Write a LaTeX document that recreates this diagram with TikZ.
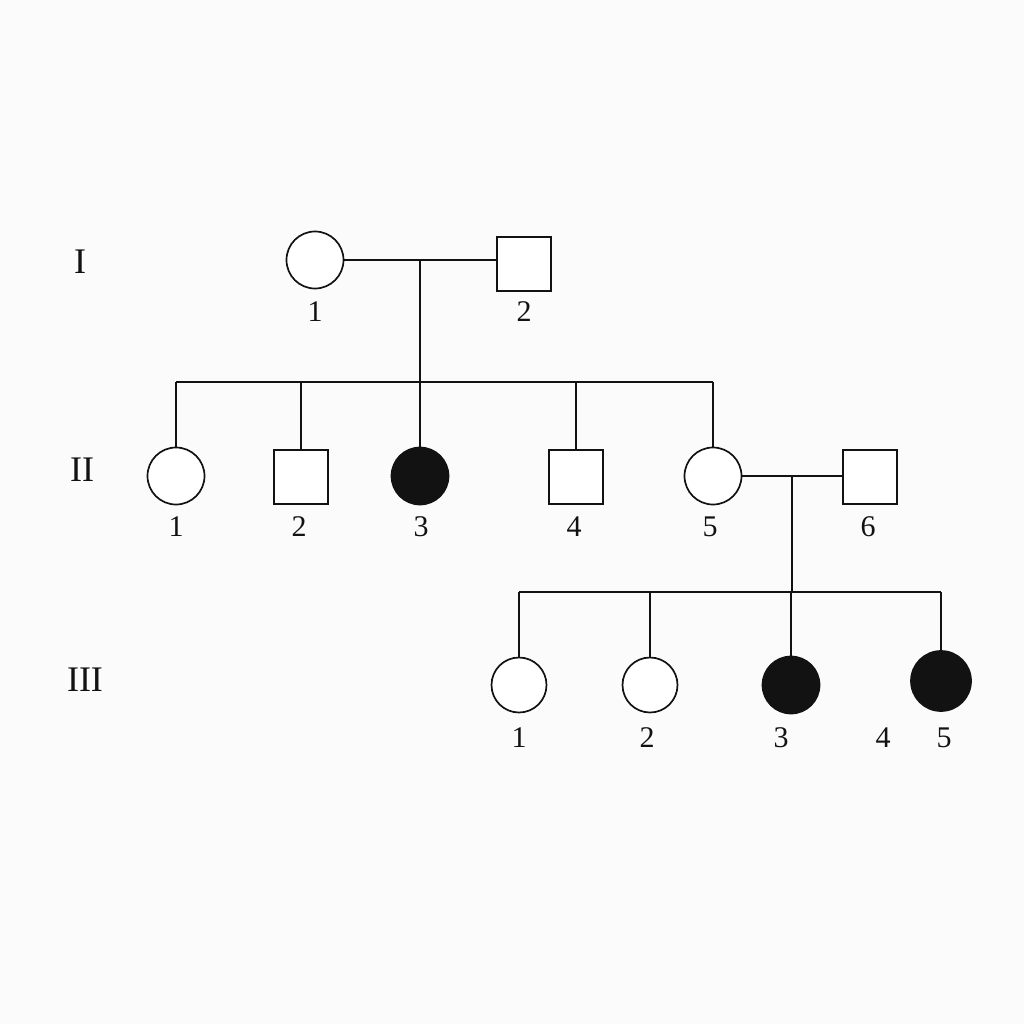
\documentclass[tikz,border=0pt]{standalone}
\usepackage{fontspec}
\setmainfont{Liberation Serif}
\usetikzlibrary{calc}
\definecolor{pdink}{RGB}{18,18,18}
\definecolor{pdbg}{RGB}{251,251,251}
\tikzset{
  pdf/.style={
    circle, draw=pdink, line width=1.7pt, fill=white,
    inner sep=0pt, minimum size=57pt
  },
  pdm/.style={
    rectangle, draw=pdink, line width=1.7pt, fill=white,
    inner sep=0pt, minimum size=54pt
  },
  aff/.style={fill=pdink},
  lnk/.style={draw=pdink, line width=1.7pt},
  num/.style={font=\fontsize{30}{32}\selectfont, text=pdink, inner sep=0pt},
  gen/.style={font=\fontsize{36}{38}\selectfont, text=pdink, inner sep=0pt}
}

\begin{document}
\begin{tikzpicture}[x=1pt, y=-1pt]
  \fill[pdbg] (0,0) rectangle (1024,1024);
  \useasboundingbox (0,0) rectangle (1024,1024);

  % generation labels
  \node[gen] (gI)   at (80,262)  {I};
  \node[gen] (gII)  at (82,470)  {II};
  \node[gen] (gIII) at (85,680)  {III};

  % generation I
  \node[pdf] (i1) at (315,260) {};
  \node[pdm] (i2) at (524,264) {};
  \node[num] (i1n) at (315,312) {1};
  \node[num] (i2n) at (524,312) {2};

  % generation II
  \node[pdf] (ii1) at (176,476) {};
  \node[pdm] (ii2) at (301,477) {};
  \node[pdf, aff] (ii3) at (420,476) {};
  \node[pdm] (ii4) at (576,477) {};
  \node[pdf] (ii5) at (713,476) {};
  \node[pdm] (ii6) at (870,477) {};
  \node[num] (ii1n) at (176,527) {1};
  \node[num] (ii2n) at (299,527) {2};
  \node[num] (ii3n) at (421,527) {3};
  \node[num] (ii4n) at (574,527) {4};
  \node[num] (ii5n) at (710,527) {5};
  \node[num] (ii6n) at (868,527) {6};

  % generation III
  \node[pdf, minimum size=55pt] (iii1) at (519,685) {};
  \node[pdf, minimum size=55pt] (iii2) at (650,685) {};
  \node[pdf, aff] (iii3) at (791,685) {};
  \node[pdf, aff, minimum size=60pt] (iii5) at (941,681) {};
  \node[num] (iii1n) at (519,738) {1};
  \node[num] (iii2n) at (647,738) {2};
  \node[num] (iii3n) at (781,738) {3};
  \node[num] (iii4n) at (883,738) {4};
  \node[num] (iii5n) at (944,738) {5};

  % matings and sibships
  \coordinate (mI)   at (420,260);
  \coordinate (sII)  at (420,382);
  \coordinate (mII)  at (792,476);
  \coordinate (sIII) at (792,592);

  \draw[lnk] (i1.east) -- (i2.west |- i1.east);
  \draw[lnk] (mI) -- (sII);
  \draw[lnk] (sII -| ii1.north) -- (sII -| ii5.north);
  \foreach \k in {ii1,ii2,ii3,ii4,ii5}
    \draw[lnk] (sII -| \k.north) -- (\k.north);

  \draw[lnk] (ii5.east) -- (ii6.west |- ii5.east);
  \draw[lnk] (mII) -- (sIII);
  \draw[lnk] (sIII -| iii1.north) -- (sIII -| iii5.north);
  \foreach \k in {iii1,iii2,iii3,iii5}
    \draw[lnk] (sIII -| \k.north) -- (\k.north);
\end{tikzpicture}
\end{document}
